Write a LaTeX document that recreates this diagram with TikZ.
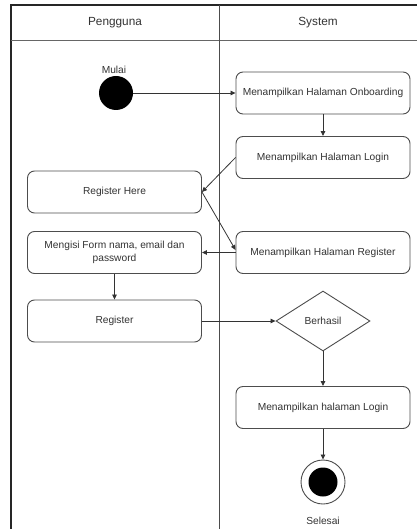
\documentclass[tikz,border=0pt]{standalone}
\usepackage{fontspec}
\setmainfont{Liberation Sans}
\usetikzlibrary{arrows.meta,shapes.geometric}
\definecolor{ink}{HTML}{333333}
\definecolor{edge}{HTML}{4D4D4D}
\begin{document}
\begin{tikzpicture}[x=1pt,y=-1pt,
  act/.style={draw=edge, line width=0.9pt, rounded corners=7pt, fill=white,
    minimum width=174pt, minimum height=42pt, align=center, text=ink,
    font=\fontsize{10.2}{12.5}\selectfont},
  dec/.style={draw=edge, line width=0.9pt, diamond, aspect=1.57, fill=white,
    minimum width=94pt, minimum height=60pt, inner sep=0pt, text=ink,
    font=\fontsize{10.2}{12.5}\selectfont},
  flow/.style={draw=ink, line width=0.8pt, -{Triangle[length=5pt,width=4.5pt]}},
  lbl/.style={text=ink, font=\fontsize{10.2}{12.5}\selectfont},
  head/.style={text=ink, font=\fontsize{11.8}{14}\selectfont}]
\useasboundingbox (0,0) rectangle (417,529);

% swimlane frame
\draw[line width=1.8pt, draw=black!85] (11,529) -- (11,5) -- (417,5);
\draw[line width=1pt, draw=black!60] (11,41) -- (417,41);
\draw[line width=1pt, draw=black!70] (219,5) -- (219,529);
\node[head] (lane1) at (115,23) {Pengguna};
\node[head] (lane2) at (318,23) {System};

% start
\node[lbl] (mulai) at (114,70) {Mulai};
\node[circle, fill=black, minimum size=34pt, inner sep=0pt] (start) at (116,93) {};

% activities
\node[act] (onb) at (323,93) {Menampilkan Halaman Onboarding};
\node[act] (login) at (323,157.5) {Menampilkan Halaman Login};
\node[act] (reghere) at (114.5,192) {Register Here};
\node[act] (form) at (114.5,252.5) {Mengisi Form nama, email dan\\password};
\node[act] (regpage) at (323,252.5) {Menampilkan Halaman Register};
\node[act] (reg) at (114.5,321) {Register};
\node[dec] (ok) at (323,321) {Berhasil};
\node[act] (login2) at (323,407.5) {Menampilkan halaman Login};

% end
\node[circle, draw=edge, line width=0.9pt, fill=white, minimum size=44pt, inner sep=0pt] (endo) at (323,482) {};
\node[circle, fill=black, minimum size=29pt, inner sep=0pt] (endi) at (endo.center) {};
\node[lbl] (selesai) at (323,521) {Selesai};

% transitions
\draw[flow] (start.east) -- (onb.west);
\draw[flow] (onb.south) -- (login.north);
\draw[flow] (login.west) -- (reghere.east);
\draw[flow] (reghere.east) -- ([yshift=2.5pt]regpage.west);
\draw[flow] (regpage.west) -- (form.east);
\draw[flow] (form.south) -- (reg.north);
\draw[flow] (reg.east) -- (ok.west);
\draw[flow] (ok.south) -- (login2.north);
\draw[flow] (login2.south) -- (endo.north);
\end{tikzpicture}
\end{document}
